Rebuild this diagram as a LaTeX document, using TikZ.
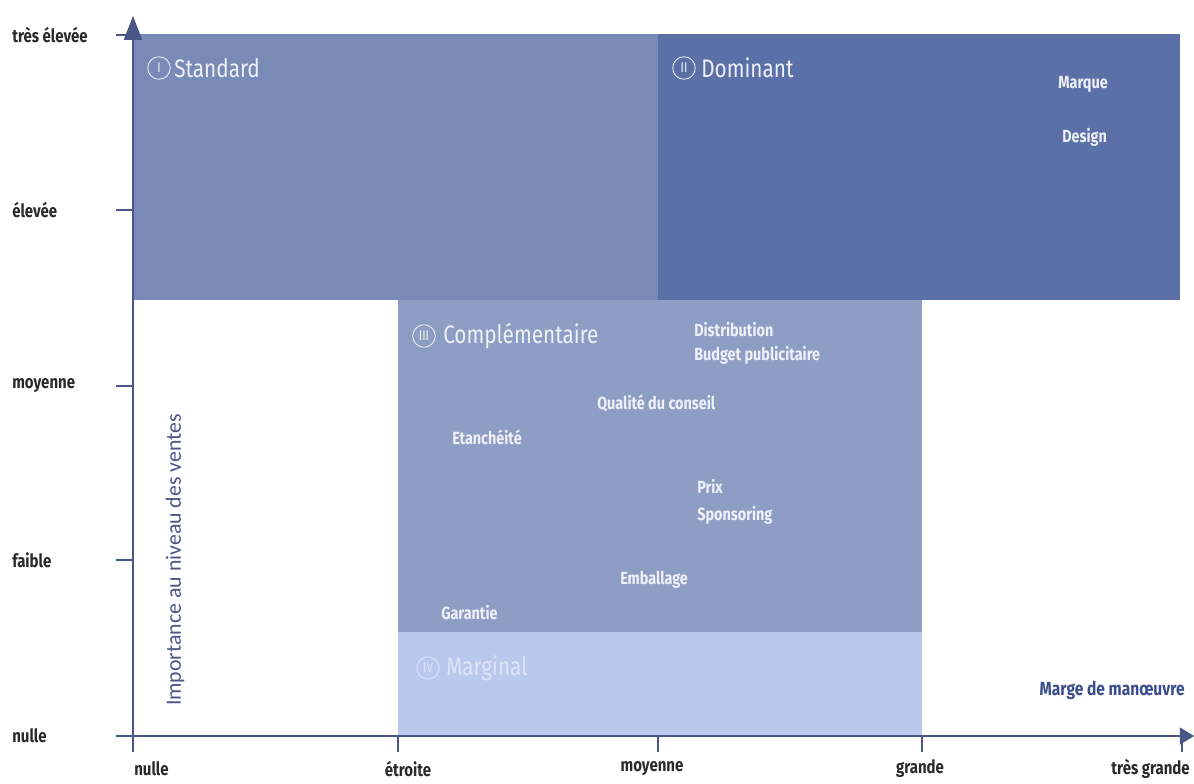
\documentclass[tikz,border=0pt]{standalone}
\usepackage{fontspec}
\setmainfont{Fira Sans}[FakeStretch=0.82]
\newfontfamily\carlito{Carlito}
\usetikzlibrary{arrows.meta}
\definecolor{stdfill}{HTML}{7A8AB6}
\definecolor{domfill}{HTML}{5B70A6}
\definecolor{compfill}{HTML}{8E9DC3}
\definecolor{margfill}{HTML}{BAC8EE}
\definecolor{axiscol}{HTML}{4A5686}
\definecolor{labcol}{HTML}{2A2A2A}
\definecolor{inkwhite}{HTML}{EEF1F8}
\definecolor{marginink}{HTML}{DCE3F7}
\definecolor{titleblue}{HTML}{3A4C8C}
\begin{document}
\begin{tikzpicture}[x=0.025cm,y=-0.025cm,
  ticklab/.style={font=\fontsize{13}{15}\selectfont\bfseries, text=labcol, inner sep=0pt},
  item/.style={font=\fontsize{12.5}{14}\selectfont\bfseries, text=inkwhite, anchor=west, inner sep=0pt},
  zonetitle/.style={font=\fontsize{18}{20}\selectfont, text=inkwhite, anchor=west, inner sep=0pt},
  numcircle/.style={circle, draw=inkwhite, line width=0.6pt, minimum size=16pt, inner sep=0pt,
    font=\fontsize{10}{10}\selectfont, text=inkwhite},
  axisline/.style={draw=axiscol, line width=0.8pt},
  tick/.style={draw=axiscol, line width=0.8pt}]
\useasboundingbox (0,0) rectangle (1194,783);

% zones
\fill[stdfill]  (133,34)  rectangle (658,300);
\fill[domfill]  (658,34)  rectangle (1180,300);
\fill[compfill] (398,300) rectangle (922,632);
\fill[margfill] (398,632) rectangle (922,736);

% axes
\coordinate (O) at (133,736);
\coordinate (ytop) at (133,16);
\coordinate (xend) at (1194,736);
\draw[axisline,-{Triangle[length=17pt,width=13pt]}] (O) -- (ytop);
\draw[axisline,-{Triangle[length=10pt,width=12pt]}] (O) -- (xend);

% y ticks and labels
\foreach \yy/\txt/\nm in {35/très élevée/ya,210/élevée/yb,386/moyenne/yc,560/faible/yd,736/nulle/ye}{
  \coordinate (\nm t) at (116,\yy);
  \draw[tick] (\nm t) -- (133,\yy);
  \node[ticklab,anchor=west] (\nm) at (12,\yy) {\txt};
}

% x ticks and labels
\foreach \xx/\nm in {133/xa,398/xb,658/xc,922/xd,1182/xe}{
  \coordinate (\nm t) at (\xx,752);
  \draw[tick] (\xx,736) -- (\nm t);
}
\node[ticklab,anchor=west] (xa) at (134,769) {nulle};
\node[ticklab] (xb) at (408,769) {étroite};
\node[ticklab] (xc) at (652,769) {moyenne};
\node[ticklab] (xd) at (920,769) {grande};
\node[ticklab,anchor=east] (xe) at (1190,769) {très grande};

% axis titles
\node[font=\carlito\fontsize{15.5}{17}\selectfont, text=axiscol, rotate=90, inner sep=0pt] (ytitle) at (175,560) {Importance au niveau des ventes};
\node[font=\fontsize{13.5}{15}\selectfont\bfseries, text=titleblue, anchor=east, inner sep=0pt] (xtitle) at (1185,690) {Marge de manœuvre};

% zone titles
\node[numcircle] (n1) at (159,68) {I};
\node[zonetitle] (t1) at (174,68) {Standard};
\node[numcircle] (n2) at (684,68) {II};
\node[zonetitle] (t2) at (701,68) {Dominant};
\node[numcircle] (n3) at (424,336) {III};
\node[zonetitle] (t3) at (443,336) {Complémentaire};
\node[numcircle, draw=marginink, text=marginink] (n4) at (428,668) {IV};
\node[zonetitle, text=marginink] (t4) at (446,668) {Marginal};

% criteria
\node[item] (marque) at (1058,84) {Marque};
\node[item] (design) at (1062,137) {Design};
\node[item] (distrib) at (694,330) {Distribution};
\node[item] (budget) at (694,355) {Budget publicitaire};
\node[item] (conseil) at (597,403) {Qualité du conseil};
\node[item] (etanch) at (452,437) {Etanchéité};
\node[item] (prix) at (697,486) {Prix};
\node[item] (spons) at (697,515) {Sponsoring};
\node[item] (emball) at (620,580) {Emballage};
\node[item] (garant) at (441,613) {Garantie};
\end{tikzpicture}
\end{document}
